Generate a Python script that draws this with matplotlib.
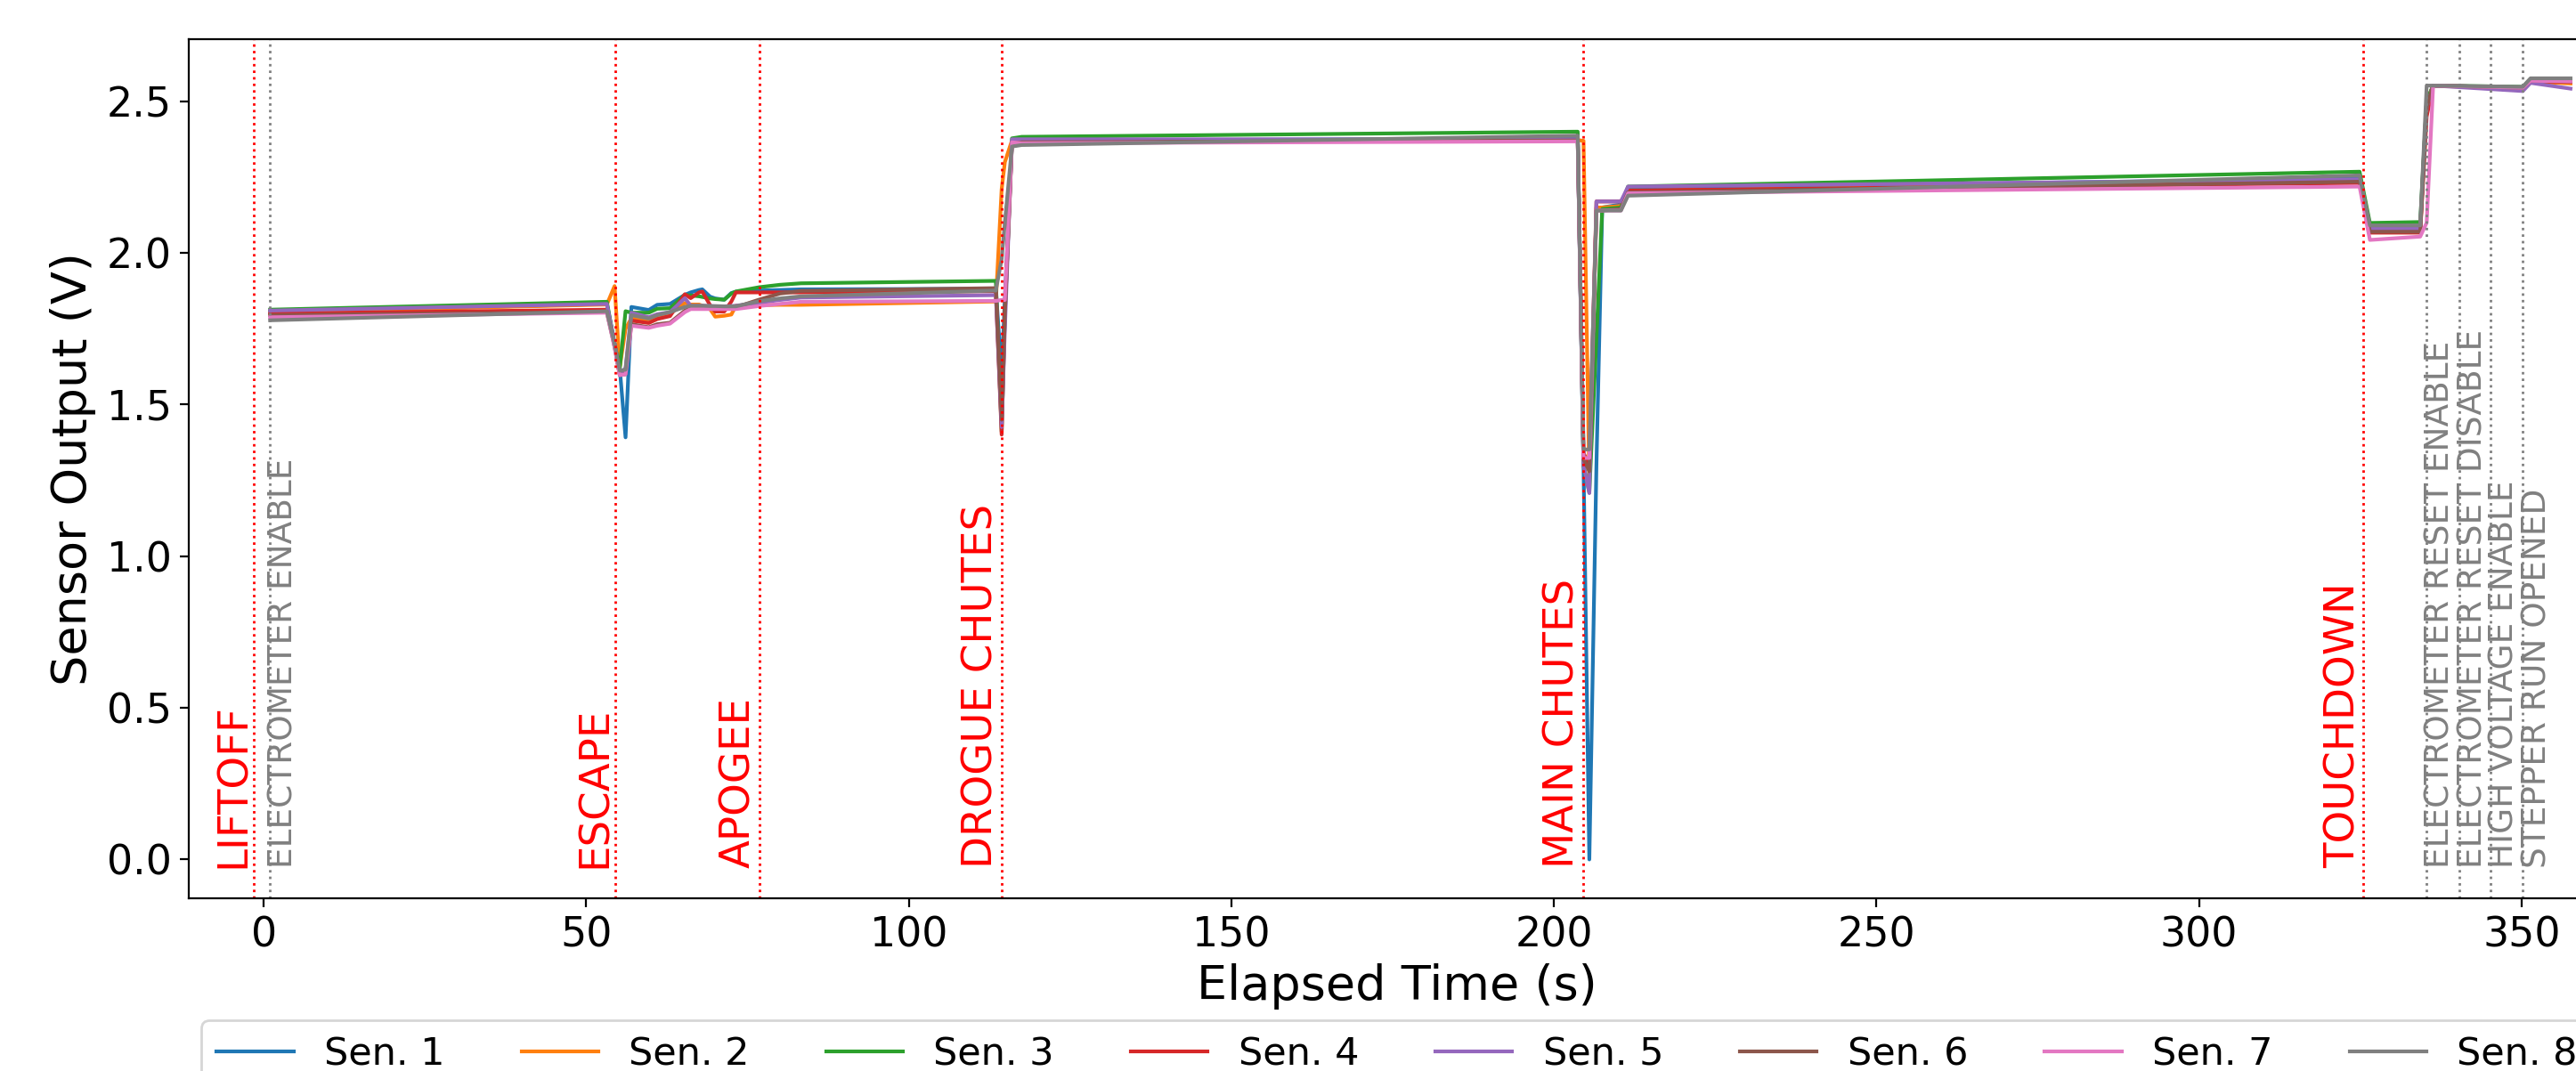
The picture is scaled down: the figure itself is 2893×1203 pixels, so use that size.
import matplotlib
matplotlib.use("Agg")
import matplotlib.pyplot as plt

# ---------------- data ----------------
time_s = [1.0, 53.2, 54.4, 55.2, 56.1, 57.0, 59.7, 61.0, 63.0, 65.3, 66.2, 67.5, 68.0, 69.2,
          70.0, 71.4, 72.5, 73.2, 76.8, 80.0, 83.3, 113.5, 114.4, 114.9, 116.0, 117.5,
          203.7, 204.6, 205.5, 206.6, 207.5, 210.4, 211.5, 324.9, 326.5, 334.3, 335.3,
          336.3, 350.2, 351.4, 357.6]

sen1 = [1.805, 1.832, 1.700, 1.620, 1.392, 1.822, 1.812, 1.829, 1.832, 1.862, 1.870, 1.878, 1.880, 1.856,
        1.850, 1.846, 1.868, 1.872, 1.876, 1.878, 1.880, 1.882, 1.600, 1.850, 2.360, 2.370,
        2.378, 1.300, 0.000, 1.300, 2.150, 2.160, 2.215, 2.245, 2.085, 2.085, 2.500,
        2.552, 2.545, 2.570, 2.568]
sen2 = [1.805, 1.830, 1.891, 1.623, 1.750, 1.785, 1.775, 1.790, 1.800, 1.835, 1.830, 1.830, 1.826, 1.815,
        1.790, 1.793, 1.797, 1.826, 1.828, 1.829, 1.829, 1.840, 2.210, 2.300, 2.371, 2.368,
        2.372, 2.370, 1.250, 2.150, 2.150, 2.155, 2.205, 2.235, 2.075, 2.075, 2.500,
        2.552, 2.540, 2.565, 2.559]
sen3 = [1.813, 1.839, 1.700, 1.620, 1.808, 1.803, 1.803, 1.816, 1.818, 1.862, 1.860, 1.857, 1.855, 1.850,
        1.848, 1.846, 1.866, 1.873, 1.887, 1.895, 1.900, 1.908, 1.410, 1.800, 2.378, 2.383,
        2.400, 1.300, 1.210, 1.720, 2.145, 2.150, 2.219, 2.268, 2.099, 2.102, 2.500,
        2.552, 2.548, 2.574, 2.571]
sen4 = [1.800, 1.813, 1.700, 1.600, 1.610, 1.777, 1.769, 1.782, 1.792, 1.864, 1.851, 1.870, 1.873, 1.828,
        1.807, 1.807, 1.840, 1.870, 1.870, 1.870, 1.870, 1.874, 1.401, 1.800, 2.366, 2.366,
        2.372, 1.340, 1.300, 2.170, 2.170, 2.170, 2.206, 2.231, 2.067, 2.067, 2.450,
        2.552, 2.545, 2.566, 2.564]
sen5 = [1.810, 1.832, 1.700, 1.600, 1.620, 1.803, 1.788, 1.798, 1.805, 1.851, 1.826, 1.826, 1.826, 1.825,
        1.824, 1.824, 1.825, 1.826, 1.836, 1.845, 1.853, 1.861, 1.426, 1.750, 2.375, 2.375,
        2.375, 1.300, 1.208, 2.170, 2.170, 2.170, 2.219, 2.243, 2.080, 2.080, 2.480,
        2.552, 2.534, 2.561, 2.542]
sen6 = [1.795, 1.805, 1.690, 1.597, 1.600, 1.765, 1.755, 1.765, 1.770, 1.810, 1.818, 1.818, 1.818, 1.819,
        1.819, 1.820, 1.820, 1.821, 1.846, 1.866, 1.875, 1.884, 1.450, 1.800, 2.360, 2.365,
        2.371, 1.320, 1.280, 2.140, 2.140, 2.145, 2.200, 2.235, 2.070, 2.070, 2.480,
        2.552, 2.545, 2.568, 2.566]
sen7 = [1.788, 1.803, 1.690, 1.597, 1.600, 1.760, 1.753, 1.760, 1.767, 1.805, 1.815, 1.815, 1.815, 1.815,
        1.815, 1.815, 1.815, 1.815, 1.825, 1.832, 1.839, 1.842, 1.845, 1.845, 2.365, 2.362,
        2.368, 1.324, 1.324, 2.140, 2.140, 2.140, 2.197, 2.219, 2.043, 2.054, 2.100,
        2.552, 2.545, 2.568, 2.566]
sen8 = [1.778, 1.808, 1.700, 1.612, 1.615, 1.795, 1.784, 1.795, 1.805, 1.822, 1.826, 1.826, 1.826, 1.825,
        1.825, 1.824, 1.824, 1.824, 1.841, 1.850, 1.857, 1.876, 1.980, 2.100, 2.351, 2.356,
        2.387, 1.352, 1.352, 2.140, 2.140, 2.140, 2.189, 2.256, 2.091, 2.091, 2.552,
        2.552, 2.548, 2.576, 2.576]

series_labels = ["Sen. 1", "Sen. 2", "Sen. 3", "Sen. 4", "Sen. 5", "Sen. 6", "Sen. 7", "Sen. 8"]

flight_event_times = [-1.56, 54.5, 76.8, 114.4, 204.5, 325.5]
flight_event_names = ["LIFTOFF", "ESCAPE", "APOGEE", "DROGUE CHUTES", "MAIN CHUTES", "TOUCHDOWN"]

cmd_event_times = [0.9, 335.2, 340.3, 345.2, 350.2]
cmd_event_names = ["ELECTROMETER ENABLE", "ELECTROMETER RESET ENABLE",
                   "ELECTROMETER RESET DISABLE", "HIGH VOLTAGE ENABLE", "STEPPER RUN OPENED"]

x_ticks = [0, 50, 100, 150, 200, 250, 300, 350]
y_ticks = [0.0, 0.5, 1.0, 1.5, 2.0, 2.5]

# ---------------- plot ----------------
fig = plt.figure(figsize=(14.465, 6.015), dpi=200)
ax = fig.add_axes([0.0733, 0.1613, 0.9381, 0.8021])

all_series = [sen1, sen2, sen3, sen4, sen5, sen6, sen7, sen8]
for i, (vals, lab) in enumerate(zip(all_series, series_labels)):
    ax.plot(time_s, vals, color=f"C{i}", lw=1.5, label=lab)

label_y = -0.028
for t, name in zip(flight_event_times, flight_event_names):
    ax.axvline(t, color="red", ls=":", lw=1.0)
    ax.text(t, label_y, name, rotation=90, color="red", fontsize=16.8,
            ha="right", va="bottom")

for t, name in zip(cmd_event_times, cmd_event_names):
    ax.axvline(t, color="gray", ls=":", lw=1.0)
    ax.text(t - 0.3, label_y, name, rotation=90, color="gray", fontsize=13.5,
            ha="left", va="bottom")

ax.set_xlim(-11.6, 363)
ax.set_ylim(-0.128, 2.705)
ax.set_xticks(x_ticks)
ax.set_yticks(y_ticks)
ax.tick_params(labelsize=16.5)
ax.set_xlabel("Elapsed Time (s)", fontsize=19.5, labelpad=3)
ax.set_ylabel("Sensor Output (V)", fontsize=19.5)

ax.legend(loc="upper center", bbox_to_anchor=(0.5, -0.12), ncol=8, fontsize=15.5)

fig.savefig("out.png", dpi=200)
